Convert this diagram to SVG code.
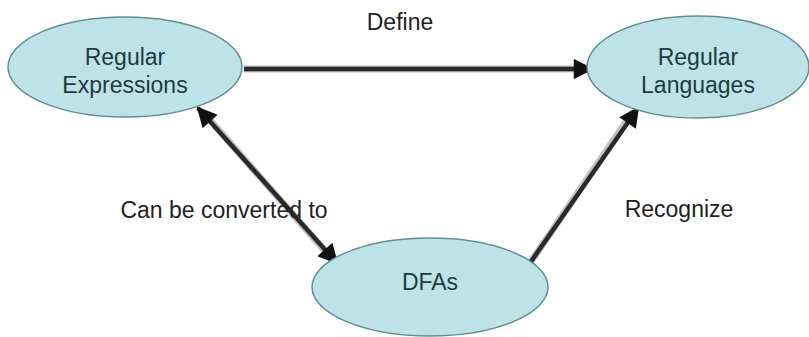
<svg xmlns="http://www.w3.org/2000/svg" width="809" height="337" viewBox="0 0 809 337">
<defs>
<style>
.node ellipse{fill:#bde3e8;stroke:#5f8e94;stroke-width:1.5}
.node text{font-family:"Liberation Sans",Arial,sans-serif;font-size:23px;fill:#1e3b40;text-anchor:middle}
.lbl{font-family:"Liberation Sans",Arial,sans-serif;font-size:23px;fill:#222;text-anchor:middle}
.edge{stroke:#2a2a2a;stroke-width:4.5;fill:none}
.halo{stroke:#9a9a9a;stroke-width:7;fill:none;opacity:0.6}
</style>
<marker id="ah" viewBox="0 0 10 10" refX="9" refY="5" markerWidth="5" markerHeight="4.5" markerUnits="strokeWidth" orient="auto-start-reverse">
<path d="M0,0 L10,5 L0,10 z" fill="#111"/>
</marker>
</defs>
<rect width="809" height="337" fill="#fff"/>
<g id="connectors">
<line class="halo" x1="244" y1="69" x2="575" y2="69"/>
<line class="edge" x1="244" y1="69" x2="592" y2="69" marker-end="url(#ah)"/>
<line class="halo" x1="210" y1="120" x2="325" y2="251"/>
<line class="edge" x1="198" y1="108" x2="337" y2="263" marker-start="url(#ah)" marker-end="url(#ah)"/>
<line class="halo" x1="530" y1="263" x2="626" y2="122"/>
<line class="edge" x1="530" y1="263" x2="638" y2="108" marker-end="url(#ah)"/>
</g>
<g id="label-define"><text class="lbl" x="400" y="30">Define</text></g>
<g id="label-converted"><text class="lbl" x="224" y="218">Can be converted to</text></g>
<g id="label-recognize"><text class="lbl" x="679" y="217">Recognize</text></g>
<g id="node-regex" class="node">
<ellipse cx="125" cy="67" rx="117" ry="50"/>
<text x="125" y="65">Regular</text>
<text x="125" y="93">Expressions</text>
</g>
<g id="node-reglang" class="node">
<ellipse cx="698" cy="67" rx="111" ry="51"/>
<text x="698" y="65">Regular</text>
<text x="698" y="93">Languages</text>
</g>
<g id="node-dfa" class="node">
<ellipse cx="430" cy="287" rx="118" ry="49"/>
<text x="430" y="290">DFAs</text>
</g>
</svg>
